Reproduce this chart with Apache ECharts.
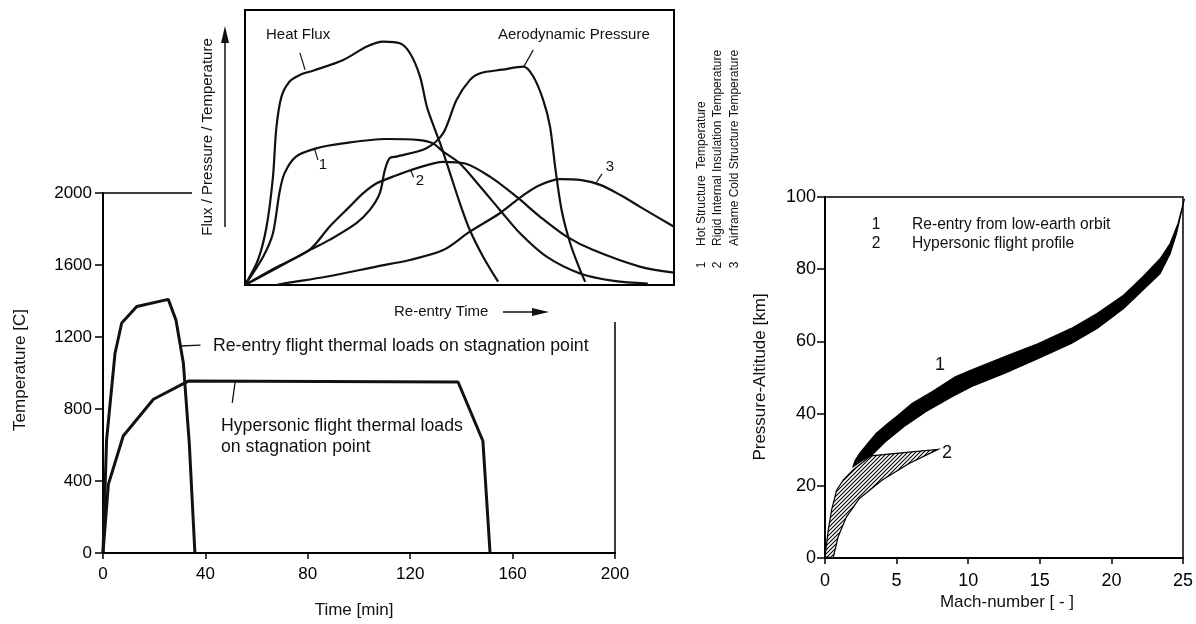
<!DOCTYPE html>
<html>
<head>
<meta charset="utf-8">
<script src="https://cdn.jsdelivr.net/npm/echarts@6/dist/echarts.min.js"></script>
<style>
html, body { margin: 0; padding: 0; background: #fff; }
#chart { width: 1196px; height: 624px; }
</style>
</head>
<body>
<div id="chart"></div>
<script>
// 左图: 温度-时间
var reentryLoad = [[0,0],[1.4,628],[4.7,1110],[7.3,1278],[13.2,1369],[25.5,1409],[28.5,1294],[31.4,1054],[33.7,611],[35.9,0]];
var hypersonicLoad = [[0,0],[2.1,381],[7.9,650],[19.7,854],[33.3,955],[138.7,950],[148.4,622],[151.2,0]];
var reentryLeader = [[30,1150],[38.1,1155]];
var hypersonicLeader = [[51.6,950],[50.5,834]];

// 小图: 相对值 (0-100)
var heatFlux = [[0,0],[3,9],[5,21],[6.5,39],[7.3,57],[8.5,68.5],[10.4,74],[12.8,76.4],[16,78],[22.9,81.8],[28.4,86.7],[32.2,88.5],[36.1,87.9],[38.5,84.2],[40.8,75.8],[42.4,64.8],[44.3,56.4],[45.5,51.5],[47.8,40.6],[50.1,29.7],[52.4,20],[55.5,10.3],[59,1.2]];
var aeroPressure = [[0,0],[7,5.8],[15.1,12.7],[19.7,16.4],[25.9,22.4],[29.1,27.3],[31.4,33.3],[32.6,41.8],[33.7,46.1],[35.3,46.7],[42.3,49.7],[46.2,55.2],[49.3,67.3],[52.4,74.5],[54.8,77],[60,78.3],[64.9,79.4],[67.2,75.8],[69.5,67.3],[71.1,57.6],[72.3,42.9],[73.8,27.3],[75.8,15.2],[78.1,5.5],[79.3,1.2]];
var hotStructure = [[0,0],[4.2,10.2],[6.5,18.7],[8,33.3],[9.2,40.6],[11.9,46.7],[16.6,49.7],[22.8,51.5],[32.9,53.1],[40.7,52.7],[43.8,51.5],[46.2,48.5],[50.1,44.2],[54.8,35.8],[59.4,27.3],[64.1,18.8],[70.3,10.3],[78.1,4.2],[86,1.5],[93.9,0.5]];
var rigidInsulation = [[0,0],[7,6.2],[15.1,12.9],[19.7,21.2],[24.4,28.5],[27.5,33.3],[30.6,36.9],[34.5,39.4],[39.9,42.4],[46.2,44.8],[51.3,44.2],[57.1,39.4],[63.3,32.1],[68.8,24.8],[75,17.6],[81.2,12.7],[92,6.7],[100,4.5]];
var coldStructure = [[7.3,0],[9.6,0.7],[18.9,3],[30.6,6.7],[38.4,9.1],[46.2,12.7],[52.4,19.4],[59.4,26.1],[64.9,32.7],[68.8,36.4],[73.5,38.5],[78.1,38.2],[82.8,36.4],[87.5,32.7],[92,28.5],[100,21.2]];
var insetLeaders = [
    [[12.8,84.4],[14,78.2]],
    [[67.2,85.5],[65,79.4]],
    [[16.2,49.5],[17,45.5]],
    [[38.6,41.8],[39.3,39.2]],
    [[83.2,40.4],[81.8,37]]
];

// 右图: 高度-马赫数 (带状区域)
var reentryUpper = [[1.96,25.3],[2.1,27],[2.42,29],[3.0,31.8],[3.57,34.5],[4.3,37],[5.0,39.2],[6.1,42.9],[7.5,46.1],[9.1,50.2],[10.25,52.1],[12.56,55.8],[14.9,59.4],[17.2,63.6],[19,67.7],[20.85,72.8],[22.2,77.9],[23.4,82.9],[24.1,87.1],[24.65,92.6],[25.1,99.5]];
var reentryLower = [[1.96,25.3],[2.6,27],[3.3,28.6],[4.3,32.5],[5.65,36.8],[7.03,40.5],[8.87,44.7],[10.25,47.5],[12.56,51.2],[14.9,55.3],[17.2,59.4],[19,63.6],[20.85,69.1],[22.2,74.2],[23.4,78.8],[24.1,84.3],[24.55,89.9],[25.1,99.5]];
var hyperUpper = [[0,0.4],[0.23,7.8],[0.46,13.3],[0.81,18.8],[1.27,21.6],[1.96,24.4],[3.2,28.3],[5.5,29.2],[7.9,30.1]];
var hyperLower = [[0.57,0],[0.92,5.9],[1.5,11.4],[2.4,16.5],[4.0,21.6],[5.87,26.2],[7.9,30.1]];

var FONT = '"Liberation Sans", Arial, sans-serif';
var INK = '#111';

// 斜线填充
var hatch = document.createElement('canvas');
hatch.width = 4; hatch.height = 4;
var hctx = hatch.getContext('2d');
hctx.fillStyle = '#fff';
hctx.fillRect(0, 0, 4, 4);
hctx.strokeStyle = '#000';
hctx.lineWidth = 1.1;
hctx.beginPath();
hctx.moveTo(-1, 5); hctx.lineTo(5, -1);
hctx.moveTo(-1, 1); hctx.lineTo(1, -1);
hctx.moveTo(3, 5); hctx.lineTo(5, 3);
hctx.stroke();

function line(data, idx, width, smooth, z) {
    return {
        type: 'line', xAxisIndex: idx, yAxisIndex: idx,
        data: data, showSymbol: false, smooth: smooth, silent: true,
        z: z || 2,
        lineStyle: { color: INK, width: width }
    };
}

function band(upper, lower, fill) {
    return {
        type: 'custom', xAxisIndex: 2, yAxisIndex: 2, silent: true,
        data: [[0, 0]],
        renderItem: function(params, api) {
            var pts = upper.concat(lower.slice().reverse()).map(function(p) { return api.coord(p); });
            return {
                type: 'polygon',
                shape: { points: pts },
                style: { fill: fill, stroke: '#000', lineWidth: 1.2 }
            };
        }
    };
}

function txt(text, x, y, size, opt) {
    opt = opt || {};
    return {
        type: 'text', x: x, y: y, z: 10, rotation: opt.rot || 0,
        style: {
            text: text, fill: INK,
            font: size + 'px ' + FONT,
            textAlign: opt.align || 'left',
            textVerticalAlign: 'middle'
        }
    };
}

var plain = function(v) { return String(v); };
var axisLine = { show: true, lineStyle: { color: '#000', width: 2 } };
var tickStyle = { color: '#000', width: 1.5 };

var series = [
    line(reentryLoad, 0, 3, false),
    line(hypersonicLoad, 0, 3, false),
    line(reentryLeader, 0, 1.3, false),
    line(hypersonicLeader, 0, 1.3, false),
    line(heatFlux, 1, 2.2, 0.3, 4),
    line(aeroPressure, 1, 2.2, 0.3, 4),
    line(hotStructure, 1, 2.2, 0.3, 4),
    line(rigidInsulation, 1, 2.2, 0.3, 4),
    line(coldStructure, 1, 2.2, 0.3, 4),
    band(hyperUpper, hyperLower, { image: hatch, repeat: 'repeat' }),
    band(reentryUpper, reentryLower, '#000')
];
insetLeaders.forEach(function(d) { series.push(line(d, 1, 1.2, false, 4)); });

var chart = echarts.init(document.getElementById('chart'));
var option = {
    animation: false,
    backgroundColor: '#fff',
    grid: [
        { left: 103, right: 581, top: 193, bottom: 71, show: true, borderColor: '#000', borderWidth: 1.5, backgroundColor: 'transparent' },
        { left: 245, right: 522, top: 10, bottom: 339, show: true, borderColor: '#000', borderWidth: 2, backgroundColor: '#fff', z: 3 },
        { left: 825, right: 9, top: 197, bottom: 66, show: true, borderColor: '#000', borderWidth: 1.5 }
    ],
    xAxis: [
        { gridIndex: 0, type: 'value', min: 0, max: 200, interval: 40,
          axisLine: axisLine, axisTick: { show: true, length: 6, lineStyle: tickStyle },
          axisLabel: { color: '#000', fontSize: 17, fontFamily: FONT, margin: 13, formatter: plain },
          splitLine: { show: false } },
        { gridIndex: 1, type: 'value', min: 0, max: 100, show: false, splitLine: { show: false } },
        { gridIndex: 2, type: 'value', min: 0, max: 25, interval: 5,
          axisLine: axisLine, axisTick: { show: true, length: 6, lineStyle: tickStyle },
          axisLabel: { color: '#000', fontSize: 18, fontFamily: FONT, margin: 14, formatter: plain },
          splitLine: { show: false } }
    ],
    yAxis: [
        { gridIndex: 0, type: 'value', min: 0, max: 2000, interval: 400,
          axisLine: axisLine, axisTick: { show: true, length: 8, lineStyle: tickStyle },
          axisLabel: { color: '#000', fontSize: 17, fontFamily: FONT, margin: 11, formatter: plain },
          splitLine: { show: false } },
        { gridIndex: 1, type: 'value', min: 0, max: 100, show: false, splitLine: { show: false } },
        { gridIndex: 2, type: 'value', min: 0, max: 100, interval: 20,
          axisLine: axisLine, axisTick: { show: true, length: 8, lineStyle: tickStyle },
          axisLabel: { color: '#000', fontSize: 18, fontFamily: FONT, margin: 9, formatter: plain },
          splitLine: { show: false } }
    ],
    graphic: [
        // 小图周围的留白
        { type: 'rect', z: 1, shape: { x: 192, y: 0, width: 508, height: 322 }, style: { fill: '#fff' } },
        txt('Temperature [C]', 20, 370, 17, { rot: Math.PI / 2, align: 'center' }),
        txt('Time [min]', 354, 610, 17, { align: 'center' }),
        txt('Re-entry flight thermal loads on stagnation point', 213, 346, 17.7),
        txt('Hypersonic flight thermal loads', 221, 426, 17.7),
        txt('on stagnation point', 221, 447, 17.7),
        // 小图文字
        txt('Flux / Pressure / Temperature', 208, 137, 15, { rot: Math.PI / 2, align: 'center' }),
        { type: 'line', z: 10, shape: { x1: 225, y1: 227, x2: 225, y2: 40 }, style: { stroke: INK, lineWidth: 1.5 } },
        { type: 'polygon', z: 10, shape: { points: [[225, 26], [221, 43], [229, 43]] }, style: { fill: INK } },
        txt('Re-entry Time', 394, 312, 15),
        { type: 'line', z: 10, shape: { x1: 503, y1: 312, x2: 535, y2: 312 }, style: { stroke: INK, lineWidth: 1.5 } },
        { type: 'polygon', z: 10, shape: { points: [[549, 312], [532, 308], [532, 316]] }, style: { fill: INK } },
        txt('Heat Flux', 266, 35, 15),
        txt('Aerodynamic Pressure', 498, 35, 15),
        txt('1', 323, 165, 15, { align: 'center' }),
        txt('2', 420, 181, 15, { align: 'center' }),
        txt('3', 610, 167, 15, { align: 'center' }),
        txt('1', 702, 265, 12, { rot: Math.PI / 2, align: 'center' }),
        txt('2', 718, 265, 12, { rot: Math.PI / 2, align: 'center' }),
        txt('3', 735, 265, 12, { rot: Math.PI / 2, align: 'center' }),
        txt('Hot Structure  Temperature', 702, 246, 12, { rot: Math.PI / 2 }),
        txt('Rigid Internal Insulation Temperature', 718, 246, 12, { rot: Math.PI / 2 }),
        txt('Airframe Cold Structure Temperature', 735, 246, 12, { rot: Math.PI / 2 }),
        // 右图文字
        txt('Pressure-Altitude [km]', 760, 377, 17, { rot: Math.PI / 2, align: 'center' }),
        txt('Mach-number [ - ]', 1007, 602, 17, { align: 'center' }),
        txt('1', 876, 225, 15.6, { align: 'center' }),
        txt('Re-entry from low-earth orbit', 912, 225, 15.6),
        txt('2', 876, 244, 15.6, { align: 'center' }),
        txt('Hypersonic flight profile', 912, 244, 15.6),
        txt('1', 940, 365, 18, { align: 'center' }),
        txt('2', 947, 453, 18, { align: 'center' })
    ],
    series: series
};
chart.setOption(option);
</script>
</body>
</html>
